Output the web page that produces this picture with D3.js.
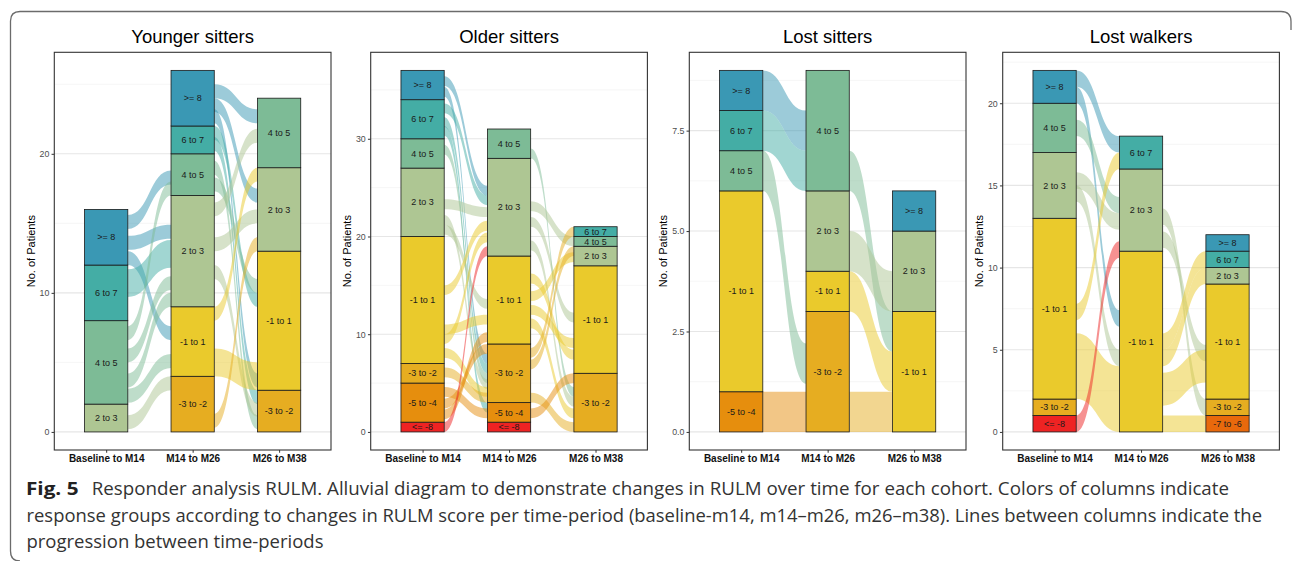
<!DOCTYPE html>
<html><head><meta charset="utf-8">
<script src="https://cdn.jsdelivr.net/npm/d3@7"></script>
<style>body{margin:0;background:#fff}svg{display:block}</style>
</head><body>
<svg id="c" width="1292" height="561"></svg>
<script>
// ---------------- DATA ----------------
const panelTitles = ["Younger sitters", "Older sitters", "Lost sitters", "Lost walkers"];
const axisLabels = ["Baseline to M14", "M14 to M26", "M26 to M38"];
const groups = ["<= -8", "-7 to -6", "-5 to -4", "-3 to -2", "-1 to 1", "2 to 3", "4 to 5", "6 to 7", ">= 8"];

// patients per response group (order of `groups`) for each time-period
const youngerCounts = [
  [0, 0, 0, 0, 0, 2, 6, 4, 4],
  [0, 0, 0, 4, 5, 8, 3, 2, 4],
  [0, 0, 0, 3, 10, 6, 5, 0, 0]
];
const olderCounts = [
  [1, 0, 4, 2, 13, 7, 3, 4, 3],
  [1, 0, 2, 6, 9, 10, 3, 0, 0],
  [0, 0, 0, 6, 11, 2, 1, 1, 0]
];
const lostSitterCounts = [
  [0, 0, 1, 0, 5, 0, 1, 1, 1],
  [0, 0, 0, 3, 1, 2, 3, 0, 0],
  [0, 0, 0, 0, 3, 2, 0, 0, 1]
];
const lostWalkerCounts = [
  [1, 0, 0, 1, 11, 4, 3, 0, 2],
  [0, 0, 0, 0, 11, 5, 0, 2, 0],
  [0, 1, 0, 1, 7, 1, 0, 1, 1]
];

// flows: [from period, from group, patient offset at start, to group, patient offset at end, patients]
const youngerFlows = [
  [0, ">= 8", 14.6, "4 to 5", 17.8, 1],
  [0, ">= 8", 13.1, "2 to 3", 13.9, 1],
  [0, ">= 8", 12.0, "-1 to 1", 6.6, 1],
  [0, "6 to 7", 9.7, "2 to 3", 11.8, 2],
  [0, "4 to 5", 6.6, "4 to 5", 17.0, 1],
  [0, "4 to 5", 5.0, "2 to 3", 10.2, 1],
  [0, "4 to 5", 3.2, "2 to 3", 9.0, 1],
  [0, "4 to 5", 2.1, "-1 to 1", 4.6, 1],
  [0, "2 to 3", 0.2, "-3 to -2", 3.0, 1],
  [1, ">= 8", 24.0, "4 to 5", 22.2, 1],
  [1, ">= 8", 23.0, "2 to 3", 16.5, 1],
  [1, ">= 8", 22.2, "-1 to 1", 3.2, 1],
  [1, "6 to 7", 21.0, "-1 to 1", 9.0, 1],
  [1, "6 to 7", 20.2, "-3 to -2", 2.0, 1],
  [1, "4 to 5", 18.5, "-3 to -2", 0.2, 1],
  [1, "4 to 5", 17.3, "-1 to 1", 10.0, 1],
  [1, "2 to 3", 15.5, "4 to 5", 20.8, 1],
  [1, "2 to 3", 13.0, "2 to 3", 15.0, 1],
  [1, "2 to 3", 11.0, "-3 to -2", 1.1, 1],
  [1, "-1 to 1", 4.0, "-1 to 1", 3.0, 2],
  [1, "-1 to 1", 8.0, "2 to 3", 18.0, 1],
  [1, "-3 to -2", 0.3, "2 to 3", 13.0, 1]
];
const olderFlows = [
  [0, ">= 8", 35.4, "2 to 3", 24.2, 1],
  [0, ">= 8", 34.3, "-3 to -2", 7.0, 1],
  [0, "6 to 7", 32.6, "2 to 3", 23.2, 1],
  [0, "6 to 7", 31.2, "-3 to -2", 6.0, 1],
  [0, "6 to 7", 30.3, "-5 to -4", 2.0, 1],
  [0, "4 to 5", 28.4, "-3 to -2", 5.0, 1],
  [0, "2 to 3", 22.8, "2 to 3", 22.0, 1],
  [0, "2 to 3", 21.2, "-3 to -2", 4.4, 1],
  [0, "2 to 3", 20.2, "-1 to 1", 12.6, 1],
  [0, "-1 to 1", 14.0, "2 to 3", 20.6, 1],
  [0, "-1 to 1", 10.0, "-1 to 1", 11.0, 1],
  [0, "-1 to 1", 9.0, "2 to 3", 19.4, 1],
  [0, "-1 to 1", 7.6, "-3 to -2", 3.6, 1],
  [0, "-3 to -2", 5.6, "-3 to -2", 3.0, 1],
  [0, "-5 to -4", 1.3, "-1 to 1", 9.2, 1],
  [0, "-5 to -4", 2.4, "-3 to -2", 8.0, 1],
  [0, "-5 to -4", 3.6, "-5 to -4", 1.4, 1],
  [0, "<= -8", 0.0, "2 to 3", 18.0, 1],
  [1, "4 to 5", 28.0, "-3 to -2", 3.6, 1],
  [1, "2 to 3", 22.6, "4 to 5", 19.0, 1],
  [1, "2 to 3", 21.0, "-1 to 1", 11.2, 1],
  [1, "2 to 3", 18.6, "-3 to -2", 2.6, 1],
  [1, "-1 to 1", 15.2, "-1 to 1", 7.4, 1],
  [1, "-1 to 1", 13.4, "2 to 3", 17.4, 1],
  [1, "-1 to 1", 12.0, "-1 to 1", 8.6, 1],
  [1, "-1 to 1", 10.6, "-3 to -2", 1.4, 1],
  [1, "-3 to -2", 7.6, "6 to 7", 20.0, 1],
  [1, "-3 to -2", 6.4, "2 to 3", 18.0, 1],
  [1, "-3 to -2", 3.0, "-3 to -2", 0.0, 1],
  [1, "-5 to -4", 1.4, "-3 to -2", 5.0, 1]
];
const lostSitterFlows = [
  [0, ">= 8", 8, "4 to 5", 7, 1],
  [0, "6 to 7", 7, "4 to 5", 6, 1],
  [0, "4 to 5", 6, "-3 to -2", 1.2, 1],
  [0, "-5 to -4", 0, "-3 to -2", 0, 1],
  [1, "4 to 5", 6, "-1 to 1", 2, 1],
  [1, "2 to 3", 4, "2 to 3", 3, 1],
  [1, "-1 to 1", 3, "-1 to 1", 1, 1],
  [1, "-3 to -2", 0, "-1 to 1", 0, 1]
];
const lostWalkerFlows = [
  [0, ">= 8", 21, "6 to 7", 17, 1],
  [0, ">= 8", 20, "-1 to 1", 6.4, 1],
  [0, "4 to 5", 18, "2 to 3", 13.3, 1],
  [0, "2 to 3", 14.8, "2 to 3", 12.3, 1],
  [0, "2 to 3", 14.0, "-1 to 1", 4.0, 1],
  [0, "-1 to 1", 6.8, "6 to 7", 16, 1],
  [0, "-1 to 1", 2, "-1 to 1", 0, 4],
  [0, "<= -8", 0, "-1 to 1", 10.6, 1],
  [1, "2 to 3", 12.6, "-3 to -2", 1, 1],
  [1, "2 to 3", 11.2, "-1 to 1", 4.3, 1],
  [1, "-1 to 1", 5, "6 to 7", 10, 1],
  [1, "-1 to 1", 4, "2 to 3", 9, 1],
  [1, "-1 to 1", 1.6, "-1 to 1", 3, 2],
  [1, "-1 to 1", 0, "-7 to -6", 0, 1]
];

const youngerTicks = [0, 10, 20];
const olderTicks = [0, 10, 20, 30];
const lostSitterTicks = [0, 2.5, 5, 7.5];
const lostWalkerTicks = [0, 5, 10, 15, 20];
const youngerTickLabels = ["0", "10", "20"];
const olderTickLabels = ["0", "10", "20", "30"];
const lostSitterTickLabels = ["0.0", "2.5", "5.0", "7.5"];
const lostWalkerTickLabels = ["0", "5", "10", "15", "20"];

const captionBold = "Fig. 5";
const captionLines = [
  "Responder analysis RULM. Alluvial diagram to demonstrate changes in RULM over time for each cohort. Colors of columns indicate",
  "response groups according to changes in RULM score per time-period (baseline-m14, m14–m26, m26–m38). Lines between columns indicate the",
  "progression between time-periods"
];

// ---------------- STYLE / LAYOUT ----------------
const groupColors = ["#ee2323", "#e8690c", "#e68e0d", "#e6ad21", "#eaca2c", "#aec693", "#7dbb96", "#44ada5", "#3a98b4"];
const color = d3.scaleOrdinal().domain(groups).range(groupColors);
const panelLefts = [54.3, 370.7, 689.3, 1002.7];
const panelW = 276.7, panelTop = 52.3, panelBottom = 450;
const FONT = "'Liberation Sans', Arial, Helvetica, sans-serif";

const svg = d3.select("#c");
svg.append("rect").attr("width", 1292).attr("height", 561).attr("fill", "#fff");

// outer bracket frame
svg.append("path")
  .attr("d", "M20,561 Q10.5,561 10.5,551 L10.5,21 Q10.5,11.5 20,11.5 L1281,11.5 Q1291,11.5 1291,21.5 L1291,30")
  .attr("fill", "none").attr("stroke", "#6b6b6b").attr("stroke-width", 1.3);

const panelData = [
  {counts: youngerCounts, flows: youngerFlows, ticks: youngerTicks, labels: youngerTickLabels},
  {counts: olderCounts, flows: olderFlows, ticks: olderTicks, labels: olderTickLabels},
  {counts: lostSitterCounts, flows: lostSitterFlows, ticks: lostSitterTicks, labels: lostSitterTickLabels},
  {counts: lostWalkerCounts, flows: lostWalkerFlows, ticks: lostWalkerTicks, labels: lostWalkerTickLabels}
];

panelData.forEach((p, i) => {
  const left = panelLefts[i];
  const g = svg.append("g");
  const totals = p.counts.map(a => d3.sum(a));
  const maxT = d3.max(totals);
  const y = d3.scaleLinear().domain([-0.05 * maxT, 1.05 * maxT]).range([panelBottom, panelTop]);
  const x = d3.scaleLinear().domain([0.4, 3.6]).range([left, left + panelW]);
  const half = 0.25;

  // gridlines
  const step = p.ticks[1] - p.ticks[0];
  const minor = [];
  for (let v = p.ticks[0] - step / 2; v <= y.domain()[1]; v += step) if (v >= y.domain()[0]) minor.push(v);
  g.selectAll(".gmin").data(minor).join("line")
    .attr("x1", left).attr("x2", left + panelW)
    .attr("y1", d => y(d)).attr("y2", d => y(d))
    .attr("stroke", "#f0f0f0").attr("stroke-width", 0.6);
  g.selectAll(".gmaj").data(p.ticks).join("line")
    .attr("x1", left).attr("x2", left + panelW)
    .attr("y1", d => y(d)).attr("y2", d => y(d))
    .attr("stroke", "#e6e6e6").attr("stroke-width", 1.1);

  // stratum bottoms
  const bottoms = p.counts.map(a => { let c = 0; return a.map(v => { const b = c; c += v; return b; }); });

  // flows
  g.selectAll(".flow").data(p.flows).join("path")
    .attr("d", f => {
      const [t, , a, , b, n] = f;
      const x0 = x(t + 1 + half), x1 = x(t + 2 - half), xm = (x0 + x1) / 2;
      return `M${x0},${y(a + n)} C${xm},${y(a + n)} ${xm},${y(b + n)} ${x1},${y(b + n)}` +
             ` L${x1},${y(b)} C${xm},${y(b)} ${xm},${y(a)} ${x0},${y(a)} Z`;
    })
    .attr("fill", f => color(f[1])).attr("fill-opacity", 0.5).attr("stroke", "none");

  // strata
  p.counts.forEach((arr, ai) => {
    const cells = arr.map((v, gi) => ({v, gi, b: bottoms[ai][gi]})).filter(d => d.v > 0);
    g.selectAll(null).data(cells).join("rect")
      .attr("x", x(ai + 1 - half)).attr("width", x(ai + 1 + half) - x(ai + 1 - half))
      .attr("y", d => y(d.b + d.v)).attr("height", d => y(d.b) - y(d.b + d.v))
      .attr("fill", d => groupColors[d.gi]).attr("stroke", "#1a1a1a").attr("stroke-width", 0.8);
    g.selectAll(null).data(cells).join("text")
      .attr("x", x(ai + 1)).attr("y", d => y(d.b + d.v / 2)).attr("dy", "0.35em")
      .attr("text-anchor", "middle").attr("font-family", FONT).attr("font-size", 9)
      .attr("fill", "#1a1a1a").text(d => groups[d.gi]);
  });

  // panel border
  g.append("rect").attr("x", left).attr("y", panelTop).attr("width", panelW).attr("height", panelBottom - panelTop)
    .attr("fill", "none").attr("stroke", "#333").attr("stroke-width", 1.1);

  // y axis
  const ya = g.append("g").attr("transform", `translate(${left},0)`)
    .call(d3.axisLeft(y).tickValues(p.ticks).tickFormat((d, j) => p.labels[j]).tickSize(2.75).tickPadding(2.2));
  ya.select(".domain").remove();
  ya.selectAll("line").attr("stroke", "#333").attr("stroke-width", 1);
  ya.selectAll("text").attr("font-family", FONT).attr("font-size", 8.8).attr("fill", "#4d4d4d");
  const bb = ya.node().getBBox();

  // x axis
  const xa = g.append("g").attr("transform", `translate(0,${panelBottom})`)
    .call(d3.axisBottom(x).tickValues([1, 2, 3]).tickFormat((d, j) => axisLabels[j]).tickSize(2.75).tickPadding(2.4));
  xa.select(".domain").remove();
  xa.selectAll("line").attr("stroke", "#333").attr("stroke-width", 1);
  xa.selectAll("text").attr("font-family", FONT).attr("font-size", 10).attr("font-weight", "bold").attr("fill", "#111");

  // y title
  const yx = left + bb.x - 4.8;
  g.append("text").attr("transform", `translate(${yx},${(panelTop + panelBottom) / 2}) rotate(-90)`)
    .attr("text-anchor", "middle").attr("font-family", FONT).attr("font-size", 11).attr("fill", "#000")
    .text("No. of Patients");

  // title
  g.append("text").attr("x", left + panelW / 2).attr("y", 43)
    .attr("text-anchor", "middle").attr("font-family", FONT).attr("font-size", 18.5).attr("fill", "#000")
    .text(panelTitles[i]);
});

// caption
const CAP = "'Open Sans', 'Noto Sans', sans-serif";
svg.append("text").attr("x", 26).attr("y", 495).attr("font-family", CAP).attr("font-weight", "bold")
  .attr("font-size", 18.5).attr("fill", "#222").attr("textLength", 52.5).attr("lengthAdjust", "spacingAndGlyphs")
  .text(captionBold);
const capX = [91.7, 26.5, 26.5], capY = [495, 521.5, 548], capW = [1229 - 91.7, 1262 - 26.5, 323.5 - 26.5];
captionLines.forEach((t, k) => {
  svg.append("text").attr("x", capX[k]).attr("y", capY[k]).attr("font-family", CAP)
    .attr("font-size", 18.5).attr("fill", "#333").attr("textLength", capW[k]).attr("lengthAdjust", "spacingAndGlyphs")
    .text(t);
});
</script>
</body></html>
